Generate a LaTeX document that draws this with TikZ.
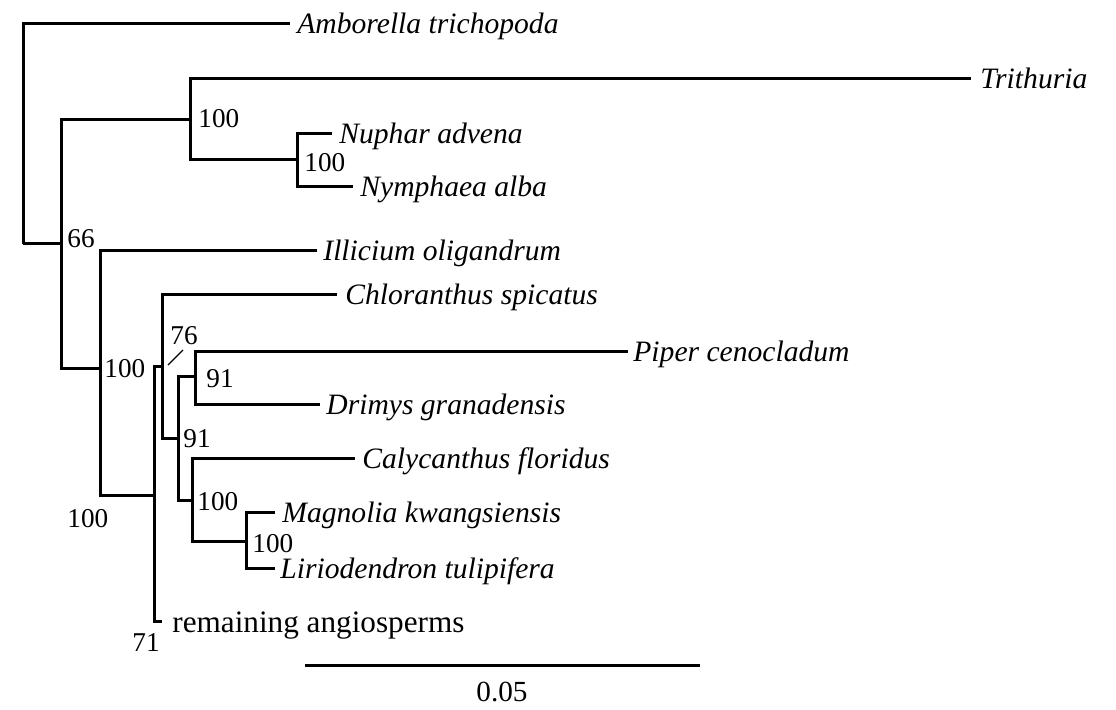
\documentclass[tikz,border=0pt]{standalone}
\usepackage{fontspec}
\setmainfont{Liberation Serif}
\begin{document}
\begin{tikzpicture}[x=0.5pt,y=-0.5pt,
  br/.style={line width=1.5pt, line join=miter},
  taxon/.style={anchor=base west, inner sep=0pt, font=\fontsize{14.8}{16}\selectfont\itshape},
  boot/.style={anchor=base west, inner sep=0pt, font=\fontsize{13.6}{16}\selectfont},
  plain/.style={anchor=base west, inner sep=0pt, font=\fontsize{15.6}{17}\selectfont},
]
\useasboundingbox[fill=white] (0,0) rectangle (1116,710);
% internal nodes
\coordinate (R) at (23,244);
\coordinate (A) at (61,244);
\coordinate (B) at (190,120);
\coordinate (C) at (297,160);
\coordinate (D) at (100,369);
\coordinate (E) at (154,496);
\coordinate (F) at (162,367);
\coordinate (G) at (178,439);
\coordinate (H) at (195,377);
\coordinate (I) at (192,501);
\coordinate (J) at (246,542);
% tips
\coordinate (tAmb) at (290,24);
\coordinate (tTri) at (971,79);
\coordinate (tNup) at (332,134);
\coordinate (tNym) at (353,187);
\coordinate (tIll) at (317,251);
\coordinate (tChl) at (337,295);
\coordinate (tPip) at (628,352);
\coordinate (tDri) at (320,405);
\coordinate (tCal) at (355,459);
\coordinate (tMag) at (275,513);
\coordinate (tLir) at (275,569);
\coordinate (tRem) at (162,622);
% branches
\draw[br] (R) |- (tAmb);
\draw[br] (R) |- (A);
\draw[br] (A) |- (B);
\draw[br] (A) |- (D);
\draw[br] (B) |- (tTri);
\draw[br] (B) |- (C);
\draw[br] (C) |- (tNup);
\draw[br] (C) |- (tNym);
\draw[br] (D) |- (tIll);
\draw[br] (D) |- (E);
\draw[br] (E) |- (F);
\draw[br] (E) |- (tRem);
\draw[br] (F) |- (tChl);
\draw[br] (F) |- (G);
\draw[br] (G) |- (H);
\draw[br] (G) |- (I);
\draw[br] (H) |- (tPip);
\draw[br] (H) |- (tDri);
\draw[br] (I) |- (tCal);
\draw[br] (I) |- (J);
\draw[br] (J) |- (tMag);
\draw[br] (J) |- (tLir);
% taxon labels
\node[taxon] (Amb) at (297,33.5) {Amborella trichopoda};
\node[taxon] (Tri) at (980,88.5) {Trithuria};
\node[taxon] (Nup) at (339,143.5) {Nuphar advena};
\node[taxon] (Nym) at (360,196.5) {Nymphaea alba};
\node[taxon] (Ill) at (323,260.5) {Illicium oligandrum};
\node[taxon] (Chl) at (345,304.5) {Chloranthus spicatus};
\node[taxon] (Pip) at (633,361.5) {Piper cenocladum};
\node[taxon] (Dri) at (326,414.5) {Drimys granadensis};
\node[taxon] (Cal) at (362,468.5) {Calycanthus floridus};
\node[taxon] (Mag) at (282,522.5) {Magnolia kwangsiensis};
\node[taxon] (Lir) at (280,578.5) {Liriodendron tulipifera};
\node[plain] (Rem) at (172,633) {remaining angiosperms};
% support values
\node[boot] (bA) at (67,248) {66};
\node[boot] (bB) at (198,128) {100};
\node[boot] (bC) at (304,172) {100};
\node[boot] (bD) at (104,378) {100};
\node[boot] (bE) at (67,528) {100};
\node[boot] (bF) at (170,345) {76};
\coordinate (lF1) at (168,365);
\coordinate (lF2) at (183,350);
\draw[line width=0.6pt] (lF1) -- (lF2);
\node[boot] (bG) at (183,448) {91};
\node[boot] (bH) at (206,388) {91};
\node[boot] (bI) at (197,511) {100};
\node[boot] (bJ) at (252,553) {100};
\node[boot] (bR) at (132,652) {71};
% scale bar
\coordinate (s1) at (305,666);
\coordinate (s2) at (700,666);
\draw[br] (s1) -- (s2);
\node[anchor=base, inner sep=0pt, font=\fontsize{14.6}{16}\selectfont] (sc) at (502,702) {0.05};
\end{tikzpicture}
\end{document}
